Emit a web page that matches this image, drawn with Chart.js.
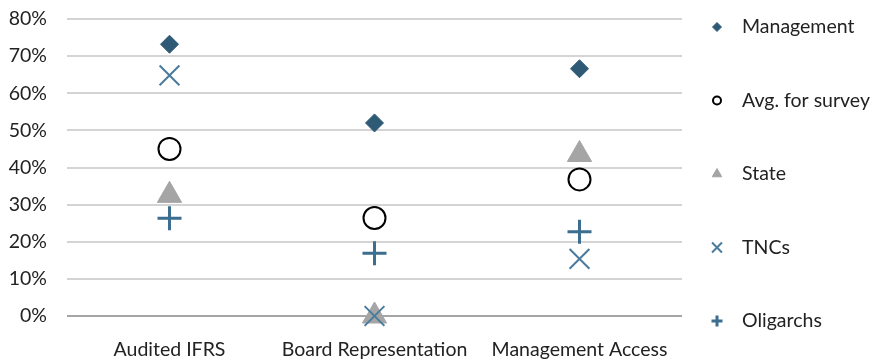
<!DOCTYPE html>
<html lang="en">
<head>
    <meta charset="UTF-8">
    <title>Governance scatter</title>
    <script src="https://cdn.jsdelivr.net/npm/chart.js"></script>
</head>
<style>
    body { margin: 0; background: #fff; }
    .chart-container { width: 881px; height: 362px; }
</style>
<body>
    <div class="chart-container">
        <canvas id="chart"></canvas>
    </div>

    <script>
        // categories and series values (percent)
        const categories = ['Audited IFRS', 'Board Representation', 'Management Access'];
        const management = [73.2, 52, 66.6];
        const avgSurvey  = [45, 26.4, 36.8];
        const state      = [32.5, 0, 43.5];
        const tncs       = [64.8, 0, 15.4];
        const oligarchs  = [26.3, 16.9, 22.7];
        const yTicks     = [0, 10, 20, 30, 40, 50, 60, 70, 80];

        const FONT = 'Lato, "Open Sans", sans-serif';
        const FONT_SIZE = 19.5;

        // legend drawn on the right, spaced like the original
        const sideLegend = {
            id: 'sideLegend',
            afterDraw(chart) {
                const ctx = chart.ctx;
                const area = chart.chartArea;
                const sets = chart.data.datasets;
                ctx.save();
                sets.forEach((ds, i) => {
                    const y = area.top + 8 + i * 73.5;
                    const x = area.right + 35;
                    ctx.fillStyle = ds.pointBackgroundColor;
                    ctx.strokeStyle = ds.pointBorderColor;
                    ctx.lineWidth = ds.borderWidth;
                    Chart.helpers.drawPoint(ctx, {
                        pointStyle: ds.pointStyle,
                        radius: ds.legendRadius,
                        borderWidth: ds.borderWidth,
                        rotation: 0
                    }, x, y);
                    ctx.fillStyle = '#222';
                    ctx.font = FONT_SIZE + 'px ' + FONT;
                    ctx.textBaseline = 'middle';
                    ctx.textAlign = 'left';
                    ctx.fillText(ds.label, x + 25, y);
                });
                ctx.restore();
            }
        };

        function makeSet(label, data, style, color, fill, radius, bw, legendRadius, order) {
            return {
                label: label,
                data: data,
                showLine: false,
                clip: false,
                pointStyle: style,
                pointRadius: radius,
                pointHoverRadius: radius,
                pointBackgroundColor: fill,
                pointBorderColor: color,
                backgroundColor: fill,
                borderColor: color,
                pointBorderWidth: bw,
                borderWidth: bw,
                legendRadius: legendRadius,
                order: order
            };
        }

        const ctx = document.getElementById('chart').getContext('2d');
        new Chart(ctx, {
            type: 'line',
            data: {
                labels: categories,
                datasets: [
                    makeSet('Management', management, 'rectRot', '#2F5A76', '#2F5A76', 9, 1, 4.5, 0),
                    makeSet('Avg. for survey', avgSurvey, 'circle', '#000000', '#ffffff', 11, 2, 4, 1),
                    makeSet('State', state, 'triangle', '#A5A5A5', '#A5A5A5', 14, 1, 5.5, 3),
                    makeSet('TNCs', tncs, 'crossRot', '#4A7B9D', '#4A7B9D', 14, 2, 7, 2),
                    makeSet('Oligarchs', oligarchs, 'cross', '#3B6E8F', '#3B6E8F', 12, 3, 5.5, 4)
                ]
            },
            options: {
                responsive: true,
                maintainAspectRatio: false,
                animation: false,
                layout: { padding: { left: 7, right: 199, top: 19, bottom: 0 } },
                plugins: {
                    legend: { display: false },
                    tooltip: { enabled: false }
                },
                scales: {
                    x: {
                        offset: true,
                        grid: { display: false, drawTicks: false },
                        border: { display: false },
                        ticks: { color: '#222', padding: 22, font: { family: FONT, size: FONT_SIZE } },
                        afterFit(scale) { scale.height = 46; }
                    },
                    y: {
                        min: 0,
                        max: 80,
                        afterBuildTicks(scale) { scale.ticks = yTicks.map(v => ({ value: v })); },
                        grid: {
                            drawTicks: true,
                            tickLength: 18,
                            tickColor: 'rgba(0,0,0,0)',
                            lineWidth: 2,
                            color: c => (c.tick && c.tick.value === 0) ? '#A6A6A6' : '#D4D4D4'
                        },
                        border: { display: false },
                        ticks: {
                            color: '#222',
                            padding: 2,
                            font: { family: FONT, size: FONT_SIZE },
                            callback: v => v + '%'
                        },
                        afterFit(scale) { scale.width = 60; }
                    }
                }
            },
            plugins: [sideLegend]
        });
    </script>
</body>
</html>
